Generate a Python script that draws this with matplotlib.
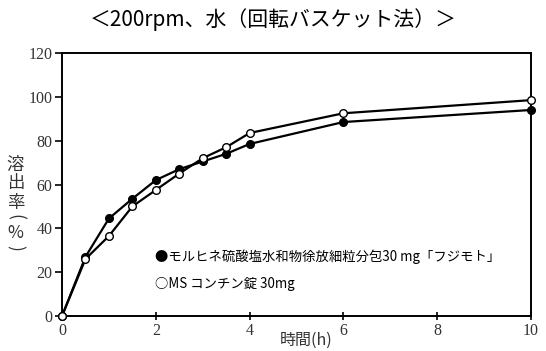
import numpy as np
from matplotlib import pyplot as plt

plt.rcParams['font.family'] = ['Noto Sans CJK JP', 'DejaVu Sans']

# time points (h)
t = [0, 0.5, 1, 1.5, 2, 2.5, 3, 3.5, 4, 6, 10]
# dissolution (%)
fujimoto = [0, 27, 44.5, 53.5, 62, 67, 70.5, 74, 78.5, 88.5, 94]
ms_contin = [0, 26, 36.5, 50, 57.5, 65, 72, 77, 83.5, 92.5, 98.5]

xticks = [0, 2, 4, 6, 8, 10]
yticks = [0, 20, 40, 60, 80, 100, 120]

fig = plt.figure(figsize=(5.46, 3.51), dpi=100)
ax = fig.add_axes([0.1136, 0.0997, 0.859, 0.7493])

ax.plot(t, fujimoto, color='black', lw=1.6, marker='o', ms=5.5,
        mfc='black', mec='black', zorder=3, clip_on=False)
ax.plot(t, ms_contin, color='black', lw=1.6, marker='o', ms=5.5,
        mfc='white', mec='black', mew=1.0, zorder=4, clip_on=False)

ax.set_xlim(0, 10)
ax.set_ylim(0, 120)
ax.set_xticks(xticks)
ax.set_yticks(yticks)
for s in ax.spines.values():
    s.set_linewidth(1.4)
ax.tick_params(axis='x', direction='inout', length=6, width=1.2, pad=2)
ax.tick_params(axis='y', direction='out', length=5, width=1.2, pad=2)
ax.tick_params(labelfontfamily='Liberation Serif', labelsize=11.5,
               labelcolor='#333333')

fig.text(0.5, 0.945, '＜200rpm、水（回転バスケット法）＞', ha='center', va='center',
         fontsize=15)
fig.text(0.56, 0.03, '時間(h)', ha='center', va='center', fontsize=11.5,
         color='#333333')

# vertical y label, one character at a time
ylab = ['溶', '出', '率', '(', '%', ')']
ylab_pos = [0.530, 0.479, 0.422, 0.382, 0.336, 0.293]
for ch, yp in zip(ylab, ylab_pos):
    rot = -90 if ch in '()' else 0
    fig.text(0.028, yp, ch, ha='center', va='center', rotation=rot,
             fontsize=12.5, color='#333333')

ax.text(0.198, 0.225, '●モルヒネ硫酸塩水和物徐放細粒分包30 mg「フジモト」',
        transform=ax.transAxes, fontsize=9.6, va='center')
ax.text(0.198, 0.12, '○MS コンチン錠 30mg',
        transform=ax.transAxes, fontsize=9.6, va='center')

plt.savefig('out.png', dpi=100)
